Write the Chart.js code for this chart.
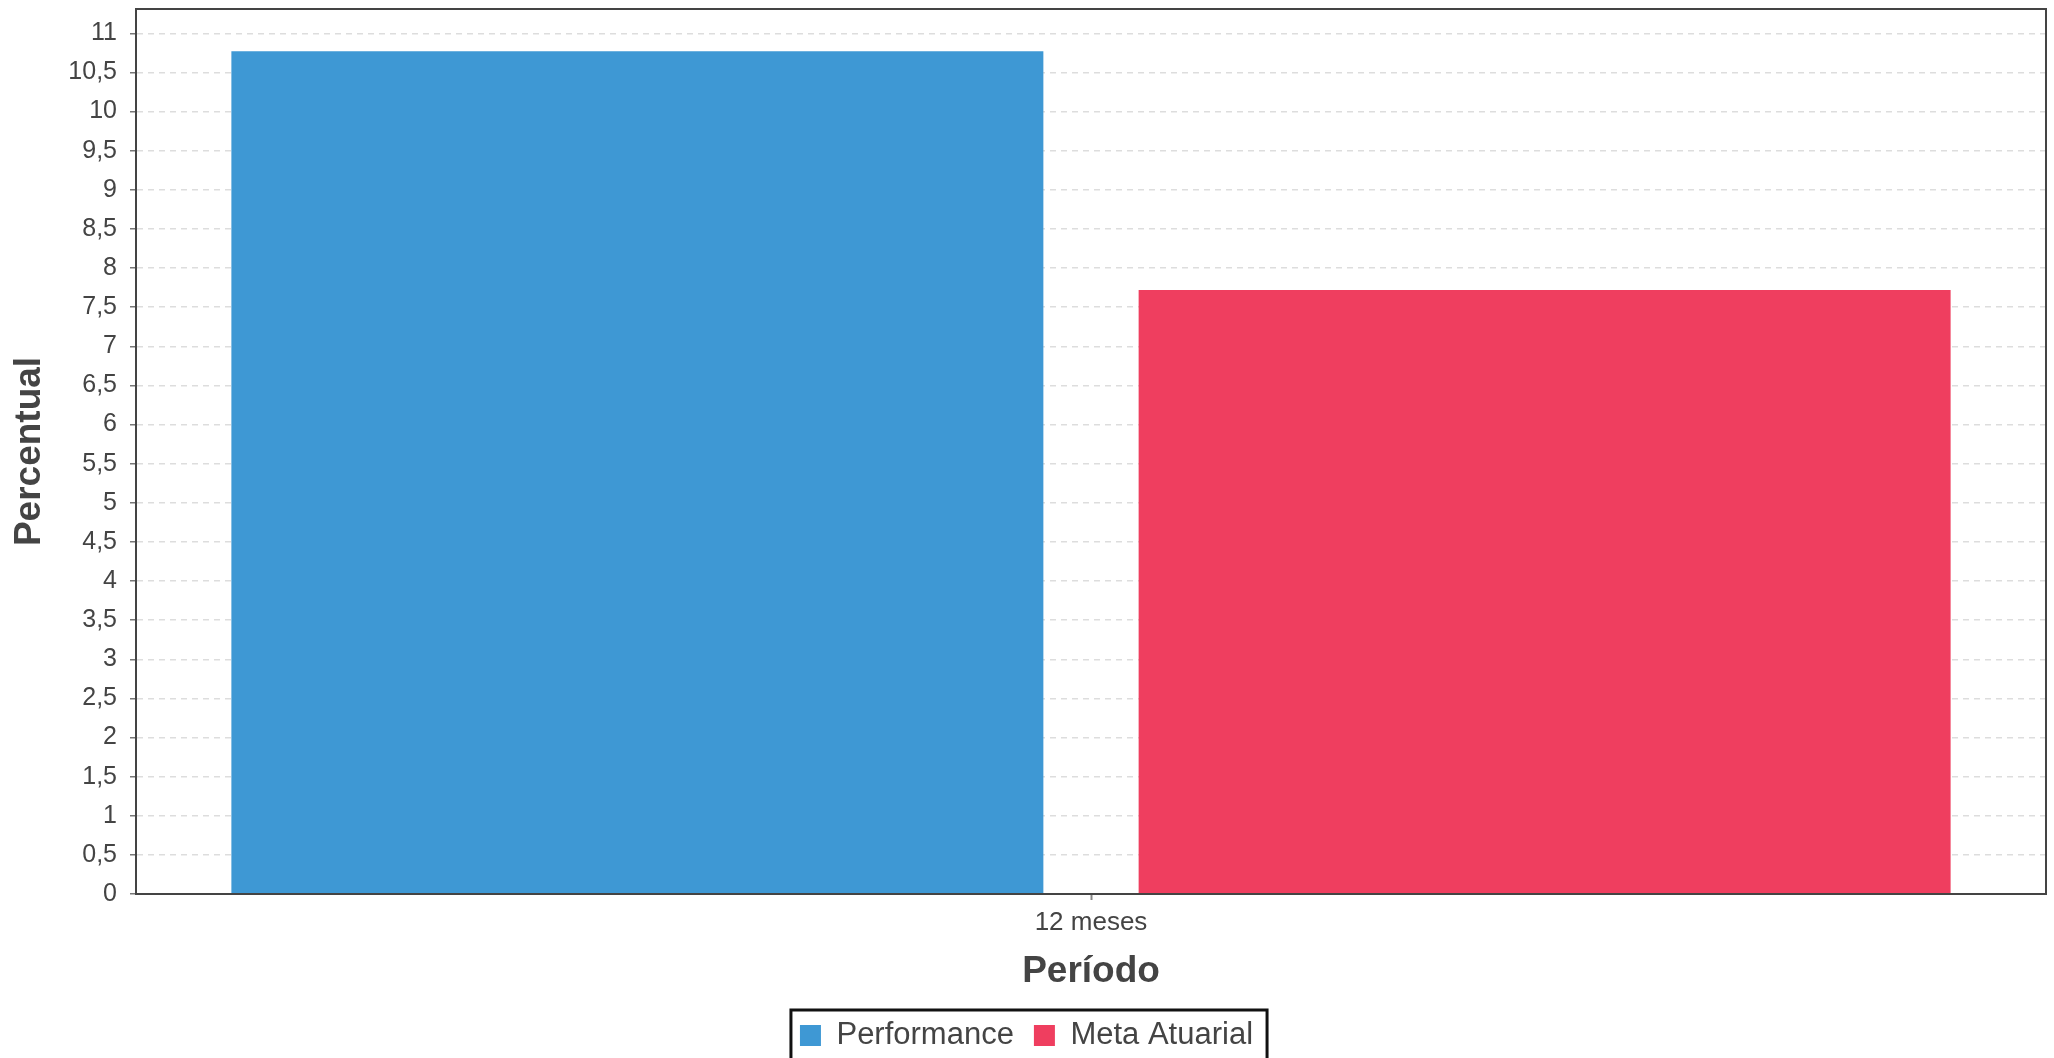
<!DOCTYPE html>
<html>
<head>
<meta charset="utf-8">
<script src="https://cdn.jsdelivr.net/npm/chart.js@4.4.0/dist/chart.umd.min.js"></script>
<style>
  html, body { margin: 0; padding: 0; background: #fff; }
  canvas { display: block; }
</style>
</head>
<body>
<canvas id="myChart" width="2054" height="1058"></canvas>
<script>
const categories = ['12 meses'];
const performance = [10.77];
const metaAtuarial = [7.72];
const seriesNames = ['Performance', 'Meta Atuarial'];
const seriesColors = ['#3e98d4', '#ef3e5f'];
const yTicks = [0, 0.5, 1, 1.5, 2, 2.5, 3, 3.5, 4, 4.5, 5, 5.5, 6, 6.5, 7, 7.5, 8, 8.5, 9, 9.5, 10, 10.5, 11];
const yMax = 11.31;

const fontFamily = '"Liberation Sans", Arial, sans-serif';
const textColor = '#444';

// frame round the plot area and a box round the legend
const frames = {
  id: 'frames',
  afterDraw(chart) {
    const ctx = chart.ctx;
    const a = chart.chartArea;
    ctx.save();
    ctx.strokeStyle = '#444';
    ctx.lineWidth = 2;
    ctx.strokeRect(a.left, a.top, a.right - a.left, a.bottom - a.top);

    const boxes = chart.legend.legendHitBoxes;
    if (boxes && boxes.length) {
      let l = Infinity, r = -Infinity, t = Infinity, b = -Infinity;
      boxes.forEach(h => {
        l = Math.min(l, h.left);
        r = Math.max(r, h.left + h.width);
        t = Math.min(t, h.top);
        b = Math.max(b, h.top + h.height);
      });
      ctx.strokeStyle = '#111';
      ctx.lineWidth = 3;
      ctx.strokeRect(l - 9, t - 10, r - l + 23, b - t + 22);
    }
    ctx.restore();
  }
};

const chart = new Chart("myChart", {
  type: "bar",
  data: {
    labels: categories,
    datasets: [{
      label: seriesNames[0],
      backgroundColor: seriesColors[0],
      data: performance
    }, {
      label: seriesNames[1],
      backgroundColor: seriesColors[1],
      data: metaAtuarial
    }]
  },
  options: {
    responsive: false,
    devicePixelRatio: 1,
    animation: false,
    categoryPercentage: 0.95,
    barPercentage: 0.895,
    layout: {
      padding: { top: 9, right: 8, left: 7, bottom: -3 }
    },
    plugins: {
      tooltip: { enabled: false },
      legend: {
        position: 'bottom',
        labels: {
          color: textColor,
          font: { family: fontFamily, size: 31 },
          boxWidth: 21,
          boxHeight: 21,
          padding: 20
        }
      }
    },
    scales: {
      x: {
        afterFit: (scale) => {
          scale.height = 106;
          scale.paddingLeft = 0;
          scale.paddingRight = 0;
        },
        grid: {
          display: true,
          drawOnChartArea: false,
          drawTicks: true,
          offset: false,
          tickLength: 6,
          tickColor: '#888',
          tickWidth: 2
        },
        border: { color: '#333', width: 2 },
        ticks: {
          color: textColor,
          padding: 7,
          font: { family: fontFamily, size: 26 }
        },
        title: {
          display: true,
          text: 'Período',
          color: textColor,
          font: { family: fontFamily, size: 37, weight: 'bold' },
          padding: { top: 14, bottom: 6 }
        }
      },
      y: {
        min: 0,
        max: yMax,
        afterBuildTicks: (scale) => {
          scale.ticks = yTicks.map(v => ({ value: v }));
        },
        afterFit: (scale) => {
          scale.width = 129;
          scale.paddingTop = 0;
          scale.paddingBottom = 0;
        },
        grid: {
          color: '#dddddd',
          lineWidth: 1.5,
          tickLength: 6,
          tickColor: '#777',
          tickWidth: 1.5,
          tickBorderDash: []
        },
        border: { color: '#333', width: 2, dash: [6, 5] },
        ticks: {
          color: textColor,
          padding: 13,
          font: { family: fontFamily, size: 25 },
          callback: (value) => String(value).replace('.', ',')
        },
        title: {
          display: true,
          text: 'Percentual',
          color: textColor,
          font: { family: fontFamily, size: 37, weight: 'bold' },
          padding: { top: 1, bottom: 19 }
        }
      }
    }
  },
  plugins: [frames]
});
</script>
</body>
</html>
